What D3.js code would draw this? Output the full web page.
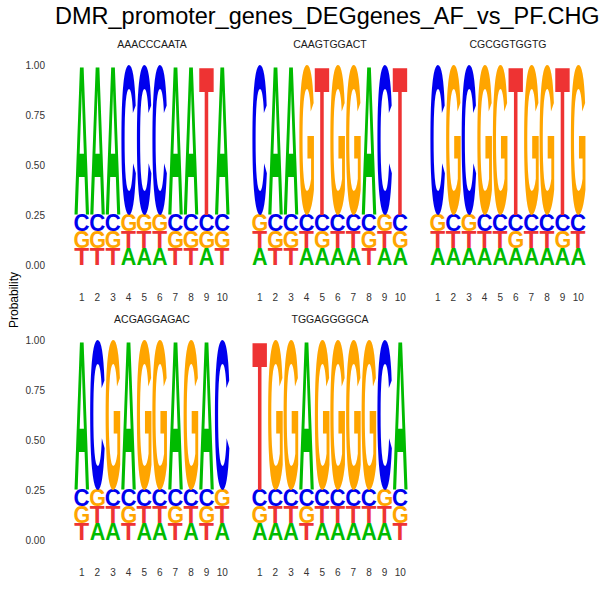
<!DOCTYPE html>
<html>
<head>
<meta charset="utf-8">
<script src="https://cdn.jsdelivr.net/npm/d3@7"></script>
<style>
  body { margin: 0; background: #fff; }
  text { font-family: "Liberation Sans", Arial, sans-serif; }
</style>
</head>
<body>
<script>
// motif names (panel titles)
var motifNames = ["AAACCCAATA", "CAAGTGGACT", "CGCGGTGGTG", "ACGAGGAGAC", "TGGAGGGGCA"];
var bases = ["A", "C", "G", "T"];
var positions = [1, 2, 3, 4, 5, 6, 7, 8, 9, 10];
var yTicks = [0, 0.25, 0.5, 0.75, 1];
// ties stack from bottom in this order
var tieOrder = ["A", "T", "G", "C"];
var baseColors = ["#00BB00", "#0000EE", "#FFA500", "#EE3333"];

// probability per position, columns A C G T
var probs1 = [
  [0.75, 0.0833, 0.0833, 0.0833], [0.75, 0.0833, 0.0833, 0.0833], [0.75, 0.0833, 0.0833, 0.0833],
  [0.0833, 0.75, 0.0833, 0.0833], [0.0833, 0.75, 0.0833, 0.0833], [0.0833, 0.75, 0.0833, 0.0833],
  [0.75, 0.0833, 0.0833, 0.0833], [0.75, 0.0833, 0.0833, 0.0833], [0.0833, 0.0833, 0.0833, 0.75],
  [0.75, 0.0833, 0.0833, 0.0833]
];
var probs2 = [
  [0.0833, 0.75, 0.0833, 0.0833], [0.75, 0.0833, 0.0833, 0.0833], [0.75, 0.0833, 0.0833, 0.0833],
  [0.0833, 0.0833, 0.75, 0.0833], [0.0833, 0.0833, 0.0833, 0.75], [0.0833, 0.0833, 0.75, 0.0833],
  [0.0833, 0.0833, 0.75, 0.0833], [0.75, 0.0833, 0.0833, 0.0833], [0.0833, 0.75, 0.0833, 0.0833],
  [0.0833, 0.0833, 0.0833, 0.75]
];
var probs3 = [
  [0.0833, 0.75, 0.0833, 0.0833], [0.0833, 0.0833, 0.75, 0.0833], [0.0833, 0.75, 0.0833, 0.0833],
  [0.0833, 0.0833, 0.75, 0.0833], [0.0833, 0.0833, 0.75, 0.0833], [0.0833, 0.0833, 0.0833, 0.75],
  [0.0833, 0.0833, 0.75, 0.0833], [0.0833, 0.0833, 0.75, 0.0833], [0.0833, 0.0833, 0.0833, 0.75],
  [0.0833, 0.0833, 0.75, 0.0833]
];
var probs4 = [
  [0.75, 0.0833, 0.0833, 0.0833], [0.0833, 0.75, 0.0833, 0.0833], [0.0833, 0.0833, 0.75, 0.0833],
  [0.75, 0.0833, 0.0833, 0.0833], [0.0833, 0.0833, 0.75, 0.0833], [0.0833, 0.0833, 0.75, 0.0833],
  [0.75, 0.0833, 0.0833, 0.0833], [0.0833, 0.0833, 0.75, 0.0833], [0.75, 0.0833, 0.0833, 0.0833],
  [0.0833, 0.75, 0.0833, 0.0833]
];
var probs5 = [
  [0.0833, 0.0833, 0.0833, 0.75], [0.0833, 0.0833, 0.75, 0.0833], [0.0833, 0.0833, 0.75, 0.0833],
  [0.75, 0.0833, 0.0833, 0.0833], [0.0833, 0.0833, 0.75, 0.0833], [0.0833, 0.0833, 0.75, 0.0833],
  [0.0833, 0.0833, 0.75, 0.0833], [0.0833, 0.0833, 0.75, 0.0833], [0.0833, 0.75, 0.0833, 0.0833],
  [0.75, 0.0833, 0.0833, 0.0833]
];
var allProbs = [probs1, probs2, probs3, probs4, probs5];

var width = 600, height = 600;
var panelW = 156, panelStep = 178, panelLeft = 74;
var rowTop = [65, 340], panelH = 200;
var letterFont = "'Liberation Sans', Arial, sans-serif";

var svg = d3.select("body").append("svg")
    .attr("width", width)
    .attr("height", height);

svg.append("text")
    .attr("x", 55)
    .attr("y", 24)
    .style("font-size", "23.5px")
    .attr("fill", "#000")
    .text("DMR_promoter_genes_DEGgenes_AF_vs_PF.CHG");

svg.append("text")
    .attr("transform", "translate(18,300)rotate(-90)")
    .attr("text-anchor", "middle")
    .style("font-size", "12px")
    .attr("fill", "#000")
    .text("Probability");

// tight glyph bounds so a letter can be stretched to its box
var ctx = document.createElement("canvas").getContext("2d");
ctx.font = "bold 100px " + letterFont;
var glyph = {};
bases.forEach(function (b) {
  var m = ctx.measureText(b);
  glyph[b] = {
    left: m.actualBoundingBoxLeft,
    right: m.actualBoundingBoxRight,
    ascent: m.actualBoundingBoxAscent,
    descent: m.actualBoundingBoxDescent
  };
});

var colorScale = d3.scaleOrdinal().domain(bases).range(baseColors);

motifNames.forEach(function (name, k) {
  var row = Math.floor(k / 3), col = k % 3;
  var x0 = panelLeft + col * panelStep;
  var x = d3.scaleBand().domain(positions).range([x0, x0 + panelW]).paddingInner(0.06).paddingOuter(0.03);
  var y = d3.scaleLinear().domain([0, 1]).range([rowTop[row] + panelH, rowTop[row]]);

  var g = svg.append("g");

  g.append("text")
      .attr("x", x0 + panelW / 2)
      .attr("y", rowTop[row] - 17)
      .attr("text-anchor", "middle")
      .style("font-size", "10.5px")
      .attr("fill", "#1a1a1a")
      .text(name);

  if (col === 0) {
    var yAxis = g.append("g")
        .attr("transform", "translate(" + (x0 - 26) + ",0)")
        .call(d3.axisLeft(y).tickValues(yTicks).tickFormat(d3.format(".2f")).tickSize(0));
    yAxis.select(".domain").remove();
    yAxis.selectAll("text").style("font-size", "10px").attr("fill", "#333").attr("dx", "0");
  }

  var xAxis = g.append("g")
      .attr("transform", "translate(0," + (rowTop[row] + panelH + 26) + ")")
      .call(d3.axisBottom(x).tickSize(0));
  xAxis.select(".domain").remove();
  xAxis.selectAll("text").style("font-size", "10px").attr("fill", "#333");

  // stack letters per position, smallest at bottom
  var letters = [];
  allProbs[k].forEach(function (row, i) {
    var stack = bases.map(function (b, j) { return {base: b, p: row[j]}; });
    stack.sort(function (a, b) {
      return (a.p - b.p) || (tieOrder.indexOf(a.base) - tieOrder.indexOf(b.base));
    });
    var acc = 0;
    stack.forEach(function (s) {
      letters.push({pos: positions[i], base: s.base, y0: acc, y1: acc + s.p});
      acc += s.p;
    });
  });

  g.selectAll("text.letter")
    .data(letters)
    .enter().append("text")
      .attr("class", "letter")
      .style("font-family", letterFont)
      .style("font-weight", "bold")
      .style("font-size", "100px")
      .attr("fill", function (d) { return colorScale(d.base); })
      .attr("transform", function (d) {
        var gb = glyph[d.base];
        var w = x.bandwidth();
        var h = y(d.y0) - y(d.y1);
        var sx = w / (gb.left + gb.right);
        var sy = h / (gb.ascent + gb.descent);
        var tx = x(d.pos) + gb.left * sx;
        var ty = y(d.y0) - gb.descent * sy;
        return "translate(" + tx + "," + ty + ")scale(" + sx + "," + sy + ")";
      })
      .text(function (d) { return d.base; });
});
</script>
</body>
</html>
